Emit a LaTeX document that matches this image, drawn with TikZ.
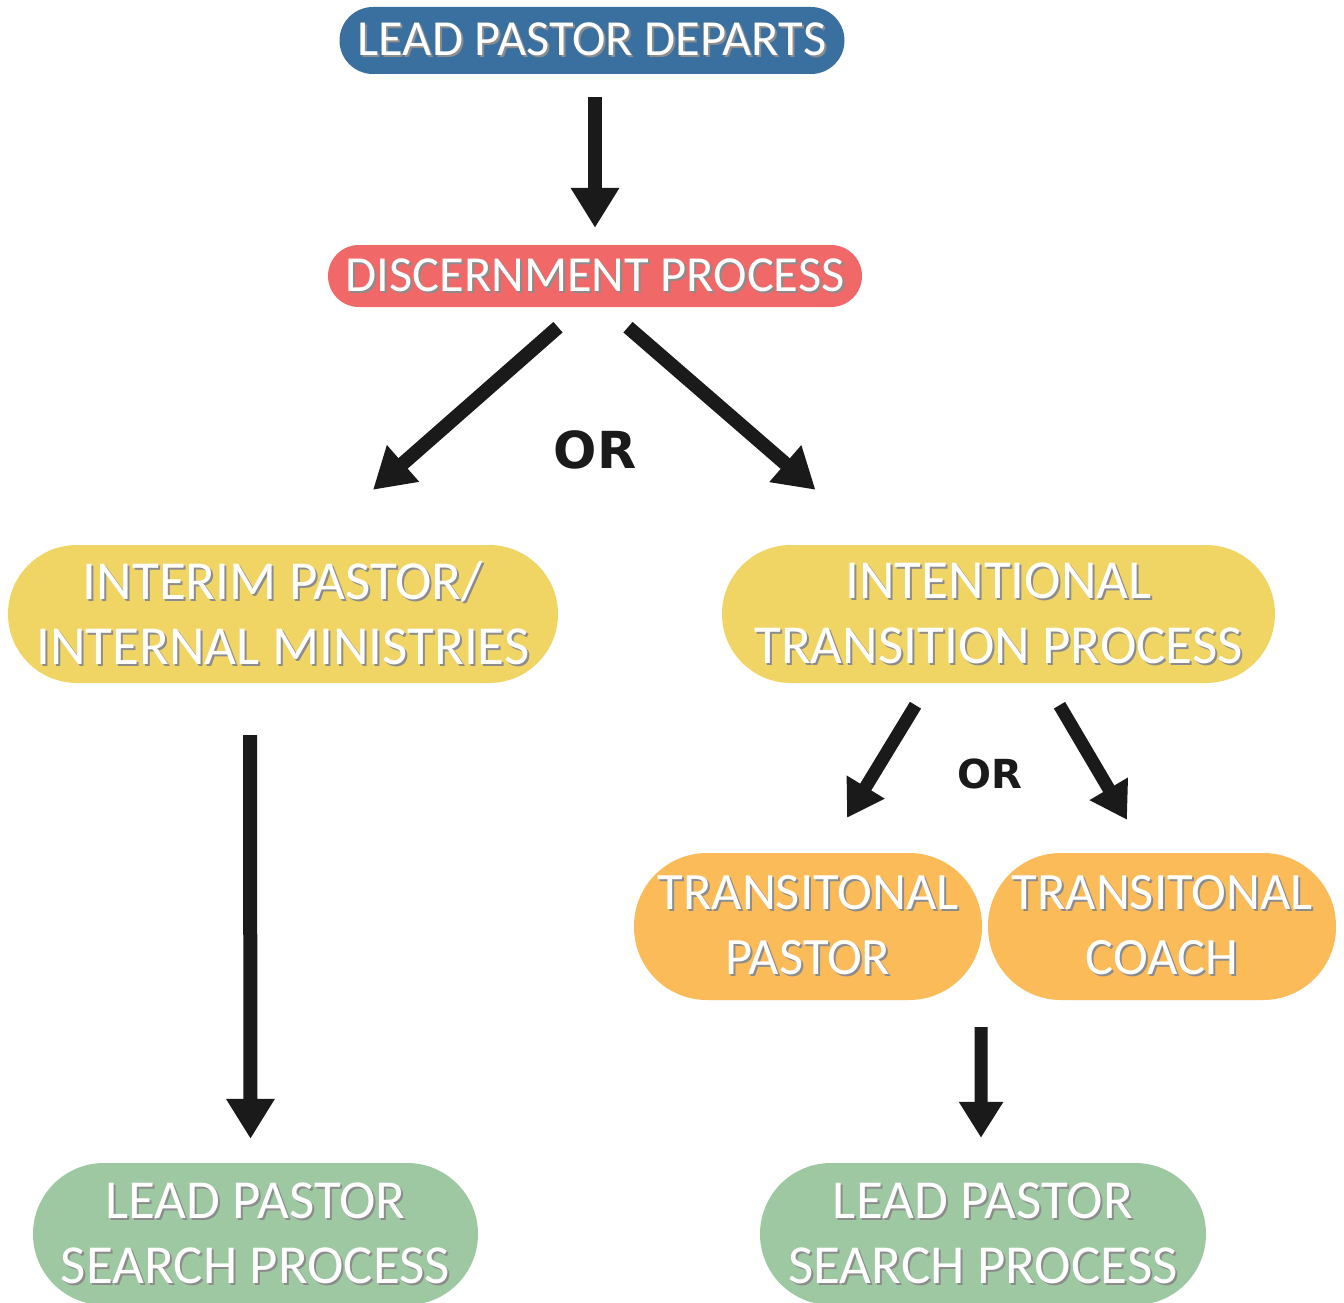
\documentclass[tikz,border=0pt]{standalone}
\usepackage{fontspec}
\setmainfont{Carlito}
\newfontfamily\orfont{DejaVu Sans}
\usetikzlibrary{arrows.meta,calc}
\definecolor{cblue}{RGB}{58,112,160}
\definecolor{cred}{RGB}{241,104,104}
\definecolor{cyellow}{RGB}{241,213,100}
\definecolor{corange}{RGB}{251,187,88}
\definecolor{cgreen}{RGB}{157,200,162}
\definecolor{carrow}{RGB}{26,26,26}
\newcommand{\shd}[1]{\leavevmode\rlap{\kern2pt\raisebox{-2pt}{\color{black!45}#1}}#1}
\tikzset{
  pill/.style={rectangle, inner sep=0pt, text=white, align=center,
     font=\fontsize{50.5}{65}\selectfont},
  pilltwo/.style={pill, font=\fontsize{55}{65}\selectfont},
  pillor/.style={pill, font=\fontsize{52.5}{65}\selectfont},
  bigarrow/.style={draw=carrow, line width=14pt,
     -{Triangle[length=40pt,width=46pt]}},
  smallarrow/.style={draw=carrow, line width=13pt,
     -{Triangle[length=36pt,width=42pt]}},
  ortext/.style={text=carrow, inner sep=0pt}
}
\begin{document}
\begin{tikzpicture}[x=1pt,y=-1pt]
\useasboundingbox (0,0) rectangle (1344,1303);
\clip (0,0) rectangle (1344,1303);
\fill[white] (0,0) rectangle (1344,1303);

\node[pill, fill=cblue, minimum width=505pt, minimum height=67pt, rounded corners=33.5pt] (depart) at (592,40.5) {\shd{LEAD PASTOR DEPARTS}};
\node[pill, fill=cred, minimum width=534pt, minimum height=62pt, rounded corners=31pt] (disc) at (595,276) {\shd{DISCERNMENT PROCESS}};
\node[pilltwo, fill=cyellow, minimum width=550pt, minimum height=138pt, rounded corners=69pt] (interim) at (283,614) {\shd{INTERIM PASTOR/}\\\shd{INTERNAL MINISTRIES}};
\node[pilltwo, fill=cyellow, minimum width=553pt, minimum height=138pt, rounded corners=69pt] (intent) at (998.5,614) {\shd{INTENTIONAL}\\\shd{TRANSITION PROCESS}};
\node[pillor, fill=corange, minimum width=348pt, minimum height=147pt, rounded corners=73pt] (tpastor) at (808,926.5) {\shd{TRANSITONAL}\\\shd{PASTOR}};
\node[pillor, fill=corange, minimum width=348pt, minimum height=147pt, rounded corners=73pt] (tcoach) at (1162,926.5) {\shd{TRANSITONAL}\\\shd{COACH}};
\node[pilltwo, fill=cgreen, minimum width=445pt, minimum height=142pt, rounded corners=71pt] (searchL) at (255.5,1234) {\shd{LEAD PASTOR}\\\shd{SEARCH PROCESS}};
\node[pilltwo, fill=cgreen, minimum width=446pt, minimum height=142pt, rounded corners=71pt] (searchR) at (983,1234) {\shd{LEAD PASTOR}\\\shd{SEARCH PROCESS}};

\node[ortext, font=\orfont\bfseries\fontsize{51}{51}\selectfont] (or1) at (595,450) {OR};
\node[ortext, font=\orfont\bfseries\fontsize{40}{40}\selectfont] (or2) at (990,774) {OR};

% connector end points
\coordinate (a1s) at ($(depart.south)+(3,23)$);
\coordinate (a1e) at ($(disc.north)+(0,-17)$);
\coordinate (a2s) at ($(disc.south)+(-37,20)$);
\coordinate (a2e) at ($(interim.north)+(90,-55)$);
\coordinate (a3s) at ($(disc.south)+(33,20)$);
\coordinate (a3e) at ($(intent.north)+(-183,-55)$);
\coordinate (a4s) at ($(interim.south)+(-33,52)$);
\coordinate (a4e) at ($(searchL.north)+(-5,-24)$);
\coordinate (a5s) at ($(intent.south)+(-83,22)$);
\coordinate (a5e) at ($(tpastor.north)+(39,-35)$);
\coordinate (a6s) at ($(intent.south)+(61,22)$);
\coordinate (a6e) at ($(tcoach.north)+(-35,-33)$);
\coordinate (a7s) at ($(tpastor.south east)+(-1,27)$);
\coordinate (a7e) at ($(searchR.north)+(-2,-25)$);

\draw[bigarrow] (a1s) -- (a1e);
\draw[bigarrow] (a2s) -- (a2e);
\draw[bigarrow] (a3s) -- (a3e);
\draw[bigarrow] (a4s) -- (a4e);
\draw[smallarrow] (a5s) -- (a5e);
\draw[smallarrow] (a6s) -- (a6e);
\draw[smallarrow] (a7s) -- (a7e);
\end{tikzpicture}
\end{document}
